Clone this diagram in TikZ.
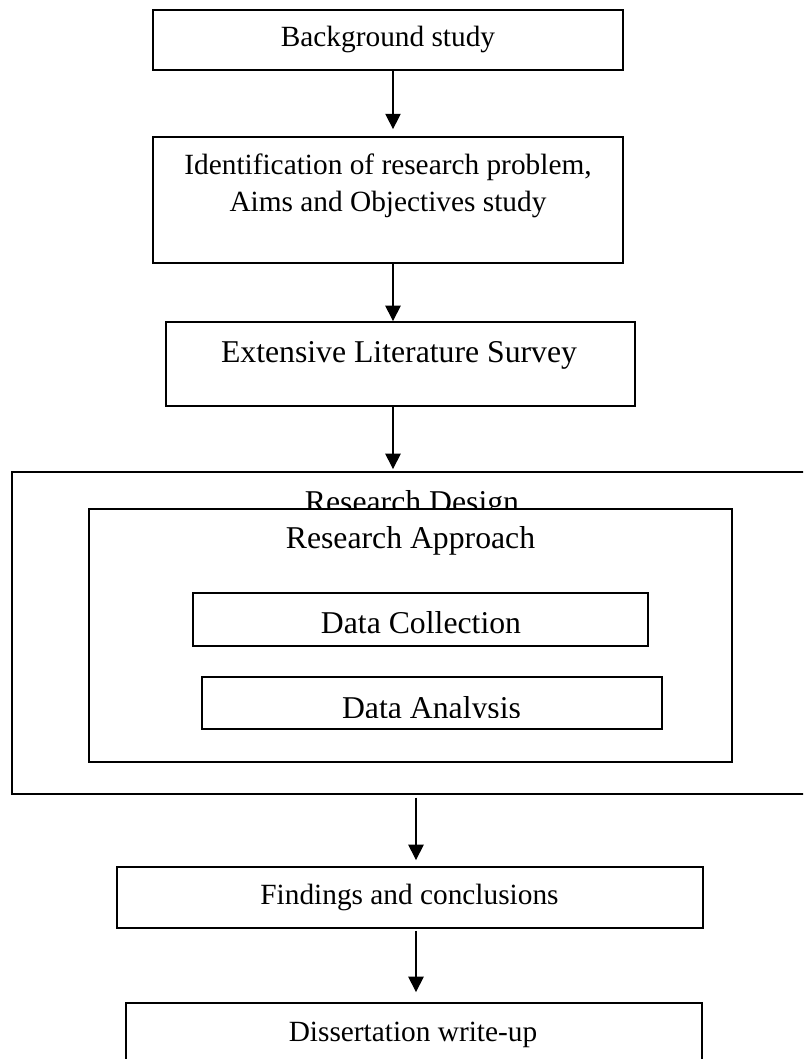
\documentclass[tikz,border=0pt]{standalone}
\usepackage{fontspec}
\setmainfont{Liberation Serif}
\usetikzlibrary{arrows.meta,fit}
\begin{document}
\begin{tikzpicture}[x=0.75pt,y=-0.75pt,
  box/.style={draw=black, line width=1.4pt, inner sep=0pt, fill=white},
  flowarrow/.style={draw=black, line width=1pt, -{Triangle[length=11.5pt,width=11.5pt]}},
  smalltext/.style={font=\fontsize{22}{27.75}\selectfont, inner sep=0pt, anchor=base},
  largetext/.style={font=\fontsize{23.8}{28}\selectfont, inner sep=0pt, anchor=base}]
% page
\clip (0,0) rectangle (803,1059);
\fill[white] (0,0) rectangle (803,1059);

% top boxes
\node[box, fit={(153,10) (623,70)}] (b1) {};
\node[smalltext] (t1) at (388,47) {Background study};
\node[box, fit={(153,137) (623,263)}] (b2) {};
% base anchor of a two-line node sits on the last line
\node[smalltext, align=center] (t2) at (388,212) {Identification of research problem,\\Aims and Objectives study};
\node[box, fit={(166,322) (635,406)}] (b3) {};
\node[largetext] (t3) at (399,362) {Extensive Literature Survey};

% research design block
\node[box, fit={(12,472) (812,794)}] (design) {};
\node[largetext] (t4) at (412,512) {Research Design};
\node[box, fit={(89,509) (732,762)}] (approach) {};
\node[largetext] (t5) at (410.5,548) {Research Approach};
\node[box, fit={(193,593) (648,646)}] (collect) {};
\node[largetext] (t6) at (421,633) {Data Collection};
\node[box, fit={(202,677) (662,729)}] (analysis) {};
\begin{scope}
  \clip (202,677) rectangle (662,717.5);
  \node[largetext] (t7) at (431.5,718) {Data Analysis};
\end{scope}

% bottom boxes
\node[box, fit={(117,867) (703,928)}] (find) {};
\node[smalltext] (t8) at (409.5,904) {Findings and conclusions};
\node[box, fit={(126,1003) (702,1080)}] (diss) {};
\node[smalltext] (t9) at (413,1041) {Dissertation write-up};

% connectors
\coordinate (ax) at (393,0);
\coordinate (bx) at (416,0);
\draw[flowarrow, shorten >=5.2pt] (b1.south -| ax) -- (b2.north -| ax);
\draw[flowarrow] (b2.south -| ax) -- (b3.north -| ax);
\draw[flowarrow, shorten >=1.5pt] (b3.south -| ax) -- (design.north -| ax);
\draw[flowarrow, shorten <=2pt, shorten >=4.5pt] (design.south -| bx) -- (find.north -| bx);
\draw[flowarrow, shorten <=1.5pt, shorten >=7.5pt] (find.south -| bx) -- (diss.north -| bx);
\end{tikzpicture}
\end{document}
